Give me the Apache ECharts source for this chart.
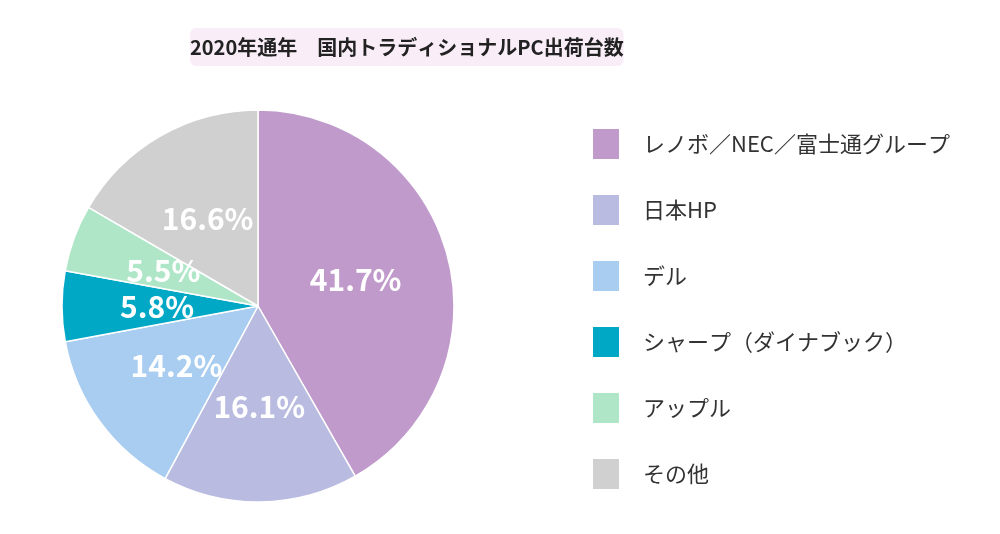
<!DOCTYPE html>
<html>
<head>
<meta charset="utf-8">
<script src="https://cdn.jsdelivr.net/npm/echarts@6/dist/echarts.min.js"></script>
<style>html,body{margin:0;padding:0;background:#fff}#chart{width:1000px;height:534px}</style>
</head>
<body>
<div id="chart"></div>
<script>
// 2020年通年 国内トラディショナルPC出荷台数
var makers = ["レノボ／NEC／富士通グループ", "日本HP", "デル", "シャープ（ダイナブック）", "アップル", "その他"];
var shares = [41.7, 16.1, 14.2, 5.8, 5.5, 16.6];
var colors = ["#c09acb", "#b9bce0", "#a8cdf0", "#00a8c6", "#b0e6c8", "#d0d0d0"];

var chart = echarts.init(document.getElementById("chart"));
var font = "'Noto Sans CJK JP', 'Noto Sans', sans-serif";

chart.setOption({
	color: colors,
	title: {
		text: "2020年通年　国内トラディショナルPC出荷台数",
		left: 190, top: 28,
		padding: [9, 0, 9, 0],
		backgroundColor: "#f9eef7",
		borderRadius: 6,
		textStyle: { fontFamily: font, fontSize: 20, fontWeight: "bold", color: "#222", width: 560, align: "center" }
	},
	legend: {
		orient: "vertical",
		left: 586, top: 122,
		itemWidth: 28, itemHeight: 32, itemGap: 32,
		icon: "rect",
		textStyle: { fontFamily: font, fontSize: 22, color: "#333", padding: [0, 0, 0, 18] },
		data: makers
	},
	series: [{
		type: "pie",
		center: [258, 306],
		radius: 196,
		startAngle: 90,
		clockwise: true,
		itemStyle: { borderColor: "#fff", borderWidth: 1.5 },
		label: {
			show: true, position: "inside",
			formatter: function (p) { return p.value.toFixed(1) + "%"; },
			fontFamily: font, fontSize: 30, fontWeight: "bold", color: "#fff"
		},
		labelLine: { show: false },
		data: makers.map(function (m, i) { return { name: m, value: shares[i] }; })
	}]
});
</script>
</body>
</html>
